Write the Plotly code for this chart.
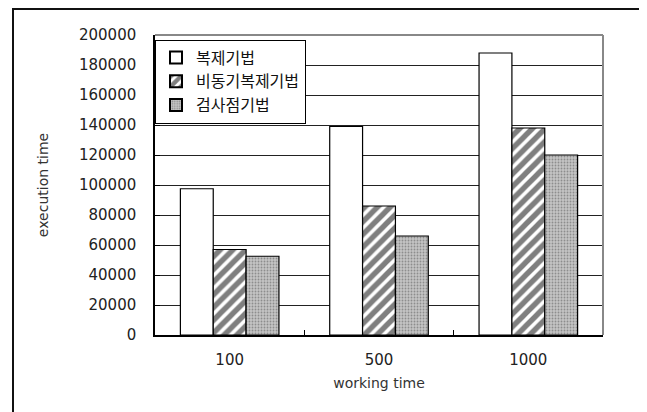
import plotly.graph_objects as go

categories = ["100", "500", "1000"]
series_names = ["복제기법", "비동기복제기법", "검사점기법"]
replication = [97500, 139000, 188000]
async_replication = [57000, 86000, 138000]
checkpoint = [52500, 66000, 120000]
y_ticks = [0, 20000, 40000, 60000, 80000, 100000, 120000, 140000, 160000, 180000, 200000]

font_fam = "Noto Sans CJK KR, DejaVu Sans, sans-serif"

# page body has an 8px margin, so the figure is drawn 8px smaller and offset
W, H = 639, 404
ML, MR, MT, MB = 147, 44, 27, 77
pw = W - ML - MR
ph = H - MT - MB

fig = go.Figure()
fig.add_trace(go.Bar(
    name=series_names[0], x=categories, y=replication,
    marker=dict(color="white", line=dict(color="black", width=1.2)),
))
fig.add_trace(go.Bar(
    name=series_names[1], x=categories, y=async_replication,
    marker=dict(color="white", line=dict(color="black", width=1.2),
                pattern=dict(shape="/", fgcolor="black", bgcolor="white", size=9, solidity=0.6)),
))
fig.add_trace(go.Bar(
    name=series_names[2], x=categories, y=checkpoint,
    marker=dict(color="#b5b5b5", line=dict(color="black", width=1.2),
                pattern=dict(shape=".", fgcolor="#555555", bgcolor="#c4c4c4", size=3, solidity=0.3)),
))

fig.update_layout(
    width=W, height=H,
    margin=dict(l=ML, r=MR, t=MT, b=MB),
    paper_bgcolor="white", plot_bgcolor="white",
    barmode="group", bargap=0.34, bargroupgap=0,
    font=dict(family=font_fam, size=15, color="#222222"),
    showlegend=True,
    legend=dict(
        x=0.0, y=0.985, xanchor="left", yanchor="top",
        bgcolor="white", bordercolor="black", borderwidth=1,
        font=dict(family=font_fam, size=16, color="#111111"),
        tracegroupgap=0, itemsizing="constant", itemwidth=30,
    ),
    shapes=[
        dict(type="rect", xref="paper", yref="paper",
             x0=(5 - ML) / pw, x1=(634 - ML) / pw,
             y0=(H - MB - 410) / ph, y1=(H - MB - 1) / ph,
             line=dict(color="#111111", width=2), layer="below"),
        dict(type="line", xref="paper", yref="paper", x0=0, x1=1, y0=1, y1=1,
             line=dict(color="#888888", width=2)),
        dict(type="line", xref="paper", yref="paper", x0=1, x1=1, y0=0, y1=1,
             line=dict(color="#888888", width=2)),
    ],
)

fig.update_yaxes(
    range=[0, 200000], tickvals=y_ticks, ticktext=[str(v) for v in y_ticks],
    showgrid=True, gridcolor="#222222", gridwidth=1,
    showline=True, linecolor="black", linewidth=1.5,
    ticks="inside", ticklen=5, tickcolor="black", ticklabelstandoff=14,
    tickfont=dict(family="DejaVu Sans", size=15, color="#222222"),
    title=dict(text="execution time", font=dict(family="DejaVu Sans", size=14, color="#333333"), standoff=27),
    zeroline=False,
)
fig.update_xaxes(
    showline=True, linecolor="black", linewidth=1.5,
    ticks="inside", tickson="boundaries", ticklen=5, tickcolor="black", ticklabelstandoff=10,
    tickfont=dict(family="DejaVu Sans", size=15, color="#222222"),
    title=dict(text="working time", font=dict(family="DejaVu Sans", size=14, color="#333333"), standoff=10),
)

fig.write_html("out.html")
